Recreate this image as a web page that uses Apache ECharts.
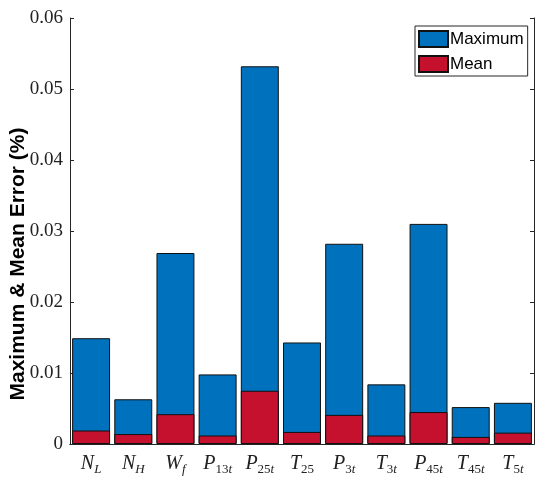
<!DOCTYPE html>
<html>
<head>
<meta charset="utf-8">
<script src="https://cdn.jsdelivr.net/npm/echarts@6/dist/echarts.min.js"></script>
<style>
  html, body { margin: 0; padding: 0; background: #fff; }
  #main { width: 550px; height: 479px; }
</style>
</head>
<body>
<div id="main"></div>
<script>
// sensor labels, "Main_sub" form
var categories = ['N_L', 'N_H', 'W_f', 'P_13t', 'P_25t', 'T_25', 'P_3t', 'T_3t', 'P_45t', 'T_45t', 'T_5t'];
var maxError = [0.0149, 0.0063, 0.0269, 0.0098, 0.0532, 0.0143, 0.0282, 0.0084, 0.0310, 0.0052, 0.0058];
var meanError = [0.0019, 0.0014, 0.0042, 0.0012, 0.0075, 0.0017, 0.0041, 0.0012, 0.0045, 0.0010, 0.0016];
var yTicks = [0, 0.01, 0.02, 0.03, 0.04, 0.05, 0.06];

var chart = echarts.init(document.getElementById('main'));

// italic main letter, upright digits and italic letters in the subscript
function mathLabel(value) {
  var parts = value.split('_');
  var out = '{m|' + parts[0] + '}';
  var sub = parts[1] || '';
  var runs = sub.match(/[0-9]+|[^0-9]+/g) || [];
  runs.forEach(function (r) {
    out += /[0-9]/.test(r) ? '{d|' + r + '}' : '{l|' + r + '}';
  });
  return out;
}

var serif = '"Liberation Serif", "DejaVu Serif", serif';
var axisCol = '#262626';

var option = {
  animation: false,
  backgroundColor: '#fff',
  grid: { left: 70, top: 18, right: 16, bottom: 35 },
  legend: {
    orient: 'vertical',
    left: 415,
    top: 26,
    padding: [4, 4, 3, 3],
    itemGap: 7,
    itemWidth: 29,
    itemHeight: 16,
    icon: 'rect',
    borderColor: axisCol,
    borderWidth: 1,
    borderRadius: 0,
    backgroundColor: '#fff',
    textStyle: { fontFamily: '"Liberation Sans", Arial, sans-serif', fontSize: 17, color: '#000', padding: [0, 0, 0, -3] },
    data: ['Maximum', 'Mean']
  },
  xAxis: [{
    type: 'category',
    data: categories,
    axisLine: { lineStyle: { color: axisCol, width: 1 } },
    axisTick: { inside: true, alignWithLabel: true, interval: 0, length: 4, lineStyle: { color: axisCol } },
    axisLabel: {
      interval: 0,
      margin: 8,
      formatter: mathLabel,
      rich: {
        m: { fontFamily: serif, fontStyle: 'italic', fontSize: 20, color: '#222', lineHeight: 24 },
        d: { fontFamily: serif, fontSize: 13, color: '#222', lineHeight: 13, verticalAlign: 'bottom' },
        l: { fontFamily: serif, fontStyle: 'italic', fontSize: 13, color: '#222', lineHeight: 13, verticalAlign: 'bottom' }
      }
    }
  }, {
    type: 'category',
    data: categories,
    position: 'top',
    axisLine: { lineStyle: { color: axisCol, width: 1 } },
    axisTick: { inside: true, alignWithLabel: true, interval: 0, length: 4, lineStyle: { color: axisCol } },
    axisLabel: { show: false }
  }],
  yAxis: [{
    type: 'value',
    min: 0,
    max: 0.06,
    interval: 0.01,
    axisLine: { show: true, lineStyle: { color: axisCol, width: 1 } },
    axisTick: { show: true, inside: true, length: 4, lineStyle: { color: axisCol } },
    splitLine: { show: false },
    axisLabel: {
      margin: 7,
      fontFamily: serif,
      fontSize: 19,
      color: '#222',
      formatter: function (v) {
        var t = yTicks.find(function (k) { return Math.abs(k - v) < 1e-9; });
        return t === 0 ? '0' : String(t);
      }
    }
  }, {
    type: 'value',
    min: 0,
    max: 0.06,
    interval: 0.01,
    position: 'right',
    axisLine: { show: true, lineStyle: { color: axisCol, width: 1 } },
    axisTick: { show: true, inside: true, length: 4, lineStyle: { color: axisCol } },
    splitLine: { show: false },
    axisLabel: { show: false }
  }],
  graphic: [{
    type: 'text',
    x: 18,
    y: 264,
    rotation: Math.PI / 2,
    style: {
      text: 'Maximum & Mean Error (%)',
      font: 'bold 21px "Liberation Sans", Arial, sans-serif',
      fill: '#000',
      align: 'center',
      verticalAlign: 'middle'
    }
  }],
  series: [{
    name: 'Maximum',
    type: 'bar',
    data: maxError,
    barCategoryGap: '10%',
    barGap: '-100%',
    itemStyle: { color: '#0072BD', borderColor: '#111', borderWidth: 1 }
  }, {
    name: 'Mean',
    type: 'bar',
    data: meanError,
    barCategoryGap: '10%',
    barGap: '-100%',
    itemStyle: { color: '#C5102E', borderColor: '#111', borderWidth: 1 }
  }]
};

chart.setOption(option);
</script>
</body>
</html>
